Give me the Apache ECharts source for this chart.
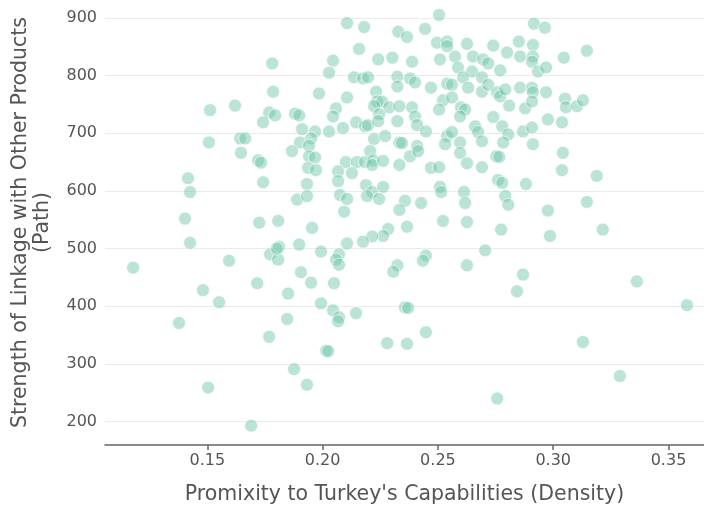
<!DOCTYPE html>
<html>
<head>
<meta charset="utf-8">
<script src="https://cdn.jsdelivr.net/npm/echarts@6/dist/echarts.min.js"></script>
<style>html,body{margin:0;padding:0;background:#fff}#c{width:704px;height:510px}</style>
</head>
<body>
<div id="c"></div>
<script>
// Density (x) and Path (y) values
const density = [
0.1178,0.1377,0.1403,0.1416,0.1425,0.1425,0.1481,0.1503,0.1512,0.1507,0.1551,0.1594,0.1620,0.1642,0.1664,0.1646,0.1690,
0.2106,0.1781,0.2045,0.2028,0.1785,0.1984,0.2106,0.1768,0.1794,0.1742,0.1880,0.1898,0.2058,0.2045,0.2088,0.1911,0.1967,0.2028,0.1902,0.1950,0.1941,0.1867,
0.1720,0.1733,0.1941,0.1967,0.1937,0.1971,0.2101,0.2067,0.1742,0.1932,0.2067,0.1889,0.1932,0.2075,0.2106,0.2093,0.1725,0.1807,0.1954,0.1811,0.1772,0.1807,0.1898,0.1993,0.2071,0.2058,0.2071,0.2106,0.1906,0.1716,0.1950,0.2049,0.1850,0.1802,
0.1993,0.2045,0.2071,0.2067,0.1846,0.1768,0.2015,0.2024,0.1876,0.1932,
0.2505,0.2180,0.2328,0.2366,0.2444,0.2496,0.2540,0.2540,0.2158,0.2241,0.2302,0.2388,0.2509,0.2136,0.2175,0.2197,0.2324,0.2379,0.2401,0.2324,0.2470,0.2540,0.2232,0.2236,0.2258,0.2223,0.2289,0.2333,0.2388,0.2245,0.2401,0.2522,0.2505,0.2145,0.2184,0.2197,0.2241,0.2324,0.2410,0.2448,0.2223,0.2271,0.2333,0.2344,0.2410,0.2540,0.2531,
0.2206,0.2149,0.2184,0.2219,0.2215,0.2262,0.2333,0.2379,0.2414,0.2127,0.2470,0.2505,0.2188,0.2215,0.2193,0.2262,0.2245,0.2357,0.2427,0.2509,0.2514,0.2333,0.2522,0.2366,0.2284,0.2262,0.2215,0.2175,0.2448,0.2435,0.2324,0.2306,
0.2916,0.2740,0.2626,0.2851,0.2912,0.2652,0.2696,0.2718,0.2800,0.2856,0.2912,0.2908,0.2574,0.2587,0.2648,0.2691,0.2770,0.2934,0.2609,0.2561,0.2631,0.2691,0.2718,0.2757,0.2770,0.2792,0.2856,0.2908,0.2912,0.2561,0.2809,0.2600,0.2618,0.2596,0.2740,0.2878,0.2908,0.2661,0.2674,0.2691,0.2779,0.2805,0.2869,0.2908,0.2561,0.2596,0.2783,0.2912,
0.2596,0.2626,0.2691,0.2753,0.2766,0.2761,0.2779,0.2882,0.2613,0.2792,0.2618,0.2805,0.2626,0.2774,0.2705,0.2626,0.2869,0.2843,
0.2964,0.3146,0.3046,0.2969,0.2969,0.3051,0.3055,0.3103,0.3129,0.2977,0.3038,0.3042,0.3038,0.3189,0.3146,0.2977,
0.2986,0.3215,0.3363,0.3580,0.3129,0.3289,
0.2145,0.2357,0.2371,0.2448,0.2280,0.2366,0.2757
];
const path = [
467,371,552,622,598,510,428,259,740,684,407,479,748,691,691,666,193,
891,821,826,805,772,769,762,736,731,719,734,731,743,729,709,707,703,703,684,691,678,669,
653,649,660,658,640,636,650,634,615,612,617,585,591,593,586,564,545,548,536,503,490,481,507,495,490,481,472,509,459,440,441,440,422,500,
405,393,381,374,378,347,323,322,291,264,
905,884,876,867,881,857,859,851,846,828,831,824,828,797,795,797,798,795,788,781,779,786,772,755,755,747,745,747,745,733,729,757,741,719,712,714,721,721,714,703,690,695,684,683,678,695,681,
669,650,650,653,645,652,645,660,669,631,640,641,610,598,591,607,586,583,579,607,598,567,548,538,534,522,521,512,488,479,471,460,
890,852,855,859,853,833,828,821,840,833,833,824,833,814,807,797,809,807,797,784,779,772,784,771,764,776,779,779,771,762,748,745,741,729,728,743,755,712,702,686,712,698,703,710,702,684,684,681,
666,648,641,660,659,619,614,612,598,591,579,576,546,533,497,471,455,426,
883,843,831,814,771,760,745,747,757,724,719,666,636,626,581,566,
522,533,443,402,338,279,
388,398,397,355,336,335,240
];
const xTicks = [0.15, 0.20, 0.25, 0.30, 0.35];
const yTicks = [200, 300, 400, 500, 600, 700, 800, 900];
const xTitle = "Promixity to Turkey's Capabilities (Density)";
const yTitle = "Strength of Linkage with Other Products\n(Path)";

const points = density.map((d, i) => [d, path[i]]);
const font = 'DejaVu Sans';
const textColor = '#555555';
const chart = echarts.init(document.getElementById('c'), null, {renderer: 'canvas'});
chart.setOption({
  animation: false,
  backgroundColor: '#ffffff',
  grid: {left: 105, right: 0, top: 0, bottom: 62.5, containLabel: false},
  xAxis: {
    type: 'value', min: 0.1056, max: 0.3654,
    name: xTitle, nameLocation: 'middle', nameGap: 39,
    nameTextStyle: {fontFamily: font, fontSize: 20.5, color: textColor},
    axisLine: {show: true, lineStyle: {color: '#666666', width: 1.5}},
    axisTick: {show: true, length: 5, lineStyle: {color: '#666666', width: 1.5}, customValues: xTicks},
    axisLabel: {customValues: xTicks, fontFamily: font, fontSize: 16, color: textColor, margin: 8,
      formatter: v => v.toFixed(2)},
    splitLine: {show: false}
  },
  yAxis: {
    type: 'value', min: 159.5, max: 931,
    name: yTitle, nameLocation: 'middle', nameGap: 51, nameRotate: 90,
    nameTextStyle: {fontFamily: font, fontSize: 20.5, color: textColor, lineHeight: 22},
    axisLine: {show: false},
    axisTick: {show: false, customValues: yTicks},
    axisLabel: {customValues: yTicks, fontFamily: font, fontSize: 16, color: textColor, margin: 8},
    splitLine: {show: true, lineStyle: {color: '#ebebeb', width: 1.2}}
  },
  series: [{
    type: 'scatter',
    data: points,
    symbolSize: 13,
    itemStyle: {color: 'rgba(102,194,165,0.56)', borderColor: '#ffffff', borderWidth: 0.8}
  }]
});
</script>
</body>
</html>
